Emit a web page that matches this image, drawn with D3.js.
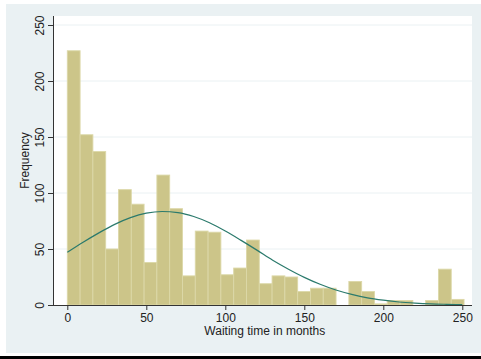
<!DOCTYPE html>
<html>
<head>
<meta charset="utf-8">
<script src="https://cdn.jsdelivr.net/npm/d3@7"></script>
<style>
  body { margin: 0; background: #fff; }
  text { font-family: "Liberation Sans", Arial, sans-serif; fill: #222; }
</style>
</head>
<body>
<div id="chart"></div>
<script>
// histogram: 31 bins starting at 0, each about 8.1 months wide
const binStart = 0;
const binWidth = 8.1;
const counts = [227, 152, 137, 50, 103, 90, 38, 116, 86, 26, 66, 65, 27, 33, 58,
  19, 26, 25, 12, 15, 15, 0, 21, 12, 1, 4, 4, 0, 4, 32, 5];

// overlaid normal curve, every 10 months
const curveX = [0, 10, 20, 30, 40, 50, 60, 70, 80, 90, 100, 110, 120, 130, 140,
  150, 160, 170, 180, 190, 200, 210, 220, 230, 240, 250];
const curveY = [47, 56, 64.4, 72, 78, 82, 83.5, 82.5, 79, 73.4, 66, 57.7, 49, 40,
  32, 24.7, 18.5, 13.4, 9.5, 6.4, 4.3, 2.7, 1.7, 1, 0.6, 0.3];

const xTicks = [0, 50, 100, 150, 200, 250];
const yTicks = [0, 50, 100, 150, 200, 250];

const W = 481, H = 359;
const fontSize = "12px";

const svg = d3.select("#chart")
  .append("svg")
  .attr("width", W)
  .attr("height", H);

// graph region + bottom strip
svg.append("rect")
  .attr("x", 6).attr("y", 4)
  .attr("width", W - 6).attr("height", 349)
  .attr("fill", "#eaf1f3");
svg.append("rect")
  .attr("x", 0).attr("y", 356)
  .attr("width", W).attr("height", 3)
  .attr("fill", "#000");

const plot = { left: 53, right: 472, top: 16, bottom: 305 };

svg.append("rect")
  .attr("x", plot.left).attr("y", plot.top)
  .attr("width", plot.right - plot.left)
  .attr("height", plot.bottom - plot.top)
  .attr("fill", "#fff");

const x = d3.scaleLinear().domain([0, 250]).range([67.3, 462.3]);
const y = d3.scaleLinear().domain([0, 250]).range([305, 25]);

// gridlines
svg.append("g")
  .selectAll("line")
  .data(yTicks.filter((d) => d > 0))
  .enter()
  .append("line")
  .attr("x1", plot.left).attr("x2", plot.right)
  .attr("y1", (d) => y(d)).attr("y2", (d) => y(d))
  .attr("stroke", "#eaf1f3")
  .attr("stroke-width", 1);

// bars
svg.append("g")
  .selectAll("rect")
  .data(counts)
  .enter()
  .append("rect")
  .attr("x", (d, i) => x(binStart + i * binWidth))
  .attr("width", x(binWidth) - x(0))
  .attr("y", (d) => y(d))
  .attr("height", (d) => y(0) - y(d))
  .attr("fill", "#ccc589")
  .attr("stroke", "#dcd8a8")
  .attr("stroke-width", 0.9);

// normal curve
const line = d3.line()
  .x((d, i) => x(curveX[i]))
  .y((d) => y(d))
  .curve(d3.curveMonotoneX);

svg.append("path")
  .attr("d", line(curveY))
  .attr("fill", "none")
  .attr("stroke", "#2b7a6c")
  .attr("stroke-width", 1.2);

// x axis
const xAxis = svg.append("g")
  .attr("transform", `translate(0,${plot.bottom})`)
  .call(d3.axisBottom(x).tickValues(xTicks).tickSize(5).tickPadding(3).tickSizeOuter(0));
xAxis.select(".domain").attr("d", `M${plot.left},0.5H${plot.right}`).attr("stroke", "#333");
xAxis.selectAll("line").attr("stroke", "#333");
xAxis.selectAll("text")
  .style("font-family", "Liberation Sans, Arial, sans-serif")
  .style("font-size", fontSize)
  .attr("fill", "#222");

// y axis
const yAxis = svg.append("g")
  .attr("transform", `translate(${plot.left},0)`)
  .call(d3.axisLeft(y).tickValues(yTicks).tickSize(5).tickSizeOuter(0));
yAxis.select(".domain").attr("d", `M0.5,${plot.bottom}V${plot.top}`).attr("stroke", "#333");
yAxis.selectAll("line").attr("stroke", "#333");
yAxis.selectAll("text")
  .attr("x", null).attr("dy", null)
  .attr("transform", "translate(-9.5,0) rotate(-90)")
  .style("text-anchor", "middle")
  .style("font-family", "Liberation Sans, Arial, sans-serif")
  .style("font-size", fontSize)
  .attr("fill", "#222");

// axis titles
svg.append("text")
  .attr("x", (x(0) + x(250)) / 2)
  .attr("y", 335)
  .style("text-anchor", "middle")
  .style("font-size", fontSize)
  .text("Waiting time in months");

svg.append("text")
  .attr("transform", `translate(29,${(plot.top + plot.bottom) / 2}) rotate(-90)`)
  .style("text-anchor", "middle")
  .style("font-size", fontSize)
  .text("Frequency");
</script>
</body>
</html>
